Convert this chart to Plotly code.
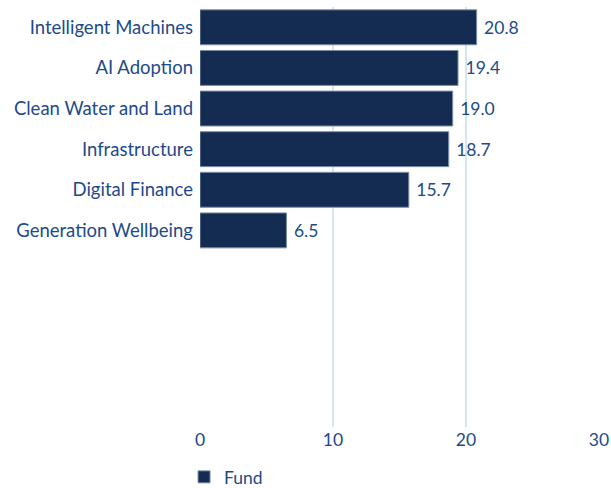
import plotly.graph_objects as go

categories = ["Intelligent Machines", "AI Adoption", "Clean Water and Land",
              "Infrastructure", "Digital Finance", "Generation Wellbeing"]
fund_values = [20.8, 19.4, 19.0, 18.7, 15.7, 6.5]
x_ticks = [0, 10, 20, 30]
series_name = "Fund"

BAR = "#142b52"
TXT = "#1d4a8c"
GRID = "#d3e6f1"
FONT = "Lato"

fig = go.Figure()
fig.add_trace(go.Bar(
    x=fund_values, y=categories, orientation="h", name=series_name,
    marker=dict(color=BAR, line=dict(color="#7c8fa8", width=1)),
    width=0.86,
    texttemplate="\u00a0%{x:.1f}", textposition="outside",
    textfont=dict(color=TXT, size=17.5, family=FONT),
    cliponaxis=False,
))

fig.update_layout(
    width=611, height=488,
    margin=dict(l=200, r=12, t=7, b=61, autoexpand=False),
    paper_bgcolor="white", plot_bgcolor="white",
    font=dict(family=FONT, size=17.5, color=TXT),
    showlegend=True,
    legend=dict(orientation="h", x=-0.04, xanchor="left", y=-0.119, yanchor="middle",
                font=dict(size=17.5, color=TXT, family=FONT), bgcolor="rgba(0,0,0,0)"),
    xaxis=dict(range=[0, 30], tickvals=x_ticks, showgrid=True, gridcolor=GRID, gridwidth=2,
               zeroline=False, showline=False, ticks="", tickfont=dict(size=17.5, color=TXT)),
    yaxis=dict(type="category", categoryorder="array", categoryarray=categories,
               range=[9.84, -0.5], showgrid=False, zeroline=False, showline=False,
               ticks="", ticklabelstandoff=6, tickfont=dict(size=18.5, color=TXT)),
)

fig.write_html("out.html")
